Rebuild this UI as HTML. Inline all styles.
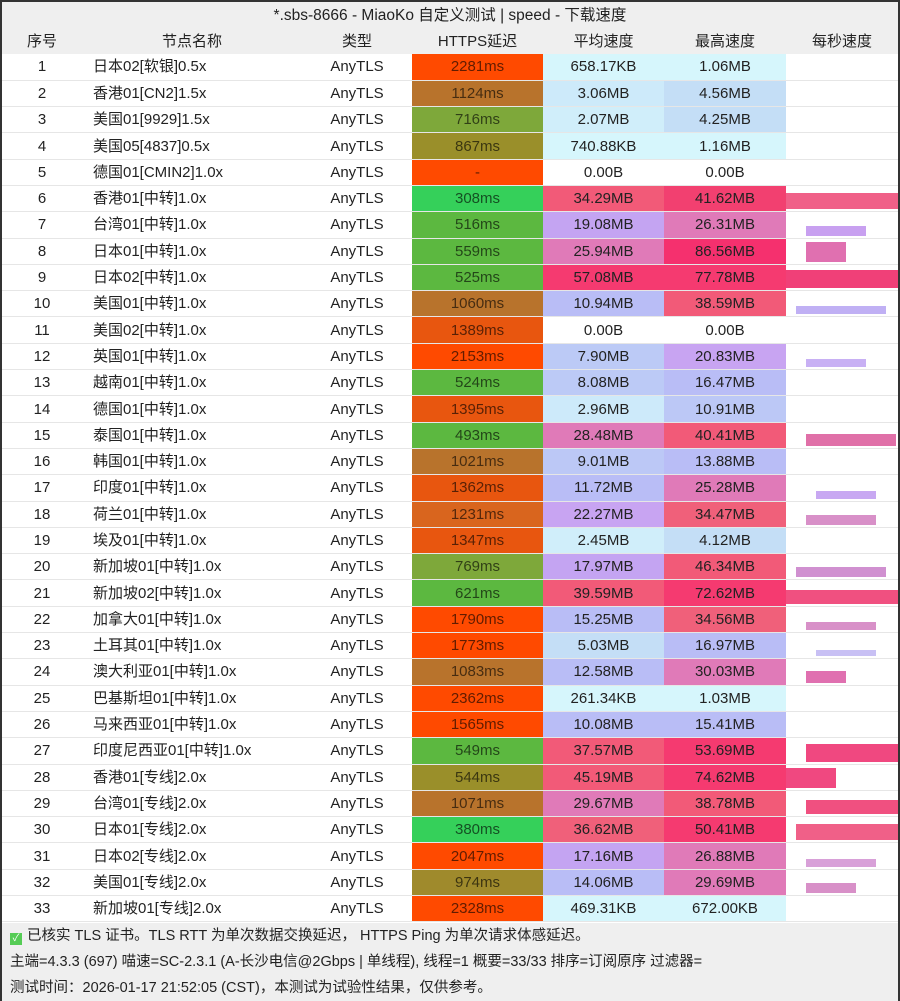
<!DOCTYPE html>
<html><head><meta charset="utf-8"><style>
*{margin:0;padding:0;box-sizing:border-box}
body{width:900px;height:1001px;background:#fff;font-family:"Liberation Sans","Noto Sans CJK SC",sans-serif;font-size:15px;color:#222;overflow:hidden;position:relative;border:2px solid #333}
.title{position:absolute;left:0;top:0;width:896px;height:27px;background:#efefef;text-align:center;line-height:27px;font-size:15.5px}
table{position:absolute;left:0;top:27px;width:896px;border-collapse:collapse;table-layout:fixed}
th{height:25px;background:#efefef;font-weight:normal;font-size:15px;text-align:center;line-height:25px}
td{height:26.3px;line-height:25px;vertical-align:middle;border-bottom:1px solid #e6e6e6;text-align:center;white-space:nowrap;padding:0;overflow:hidden}
td span{display:inline-block;vertical-align:middle;line-height:20px}
td.n{text-align:left;padding-left:11px}
td.s{padding:0;position:relative}
td:nth-child(4){color:rgba(0,0,0,0.62)}
.foot{position:absolute;left:0;top:921px;width:896px;height:78px;background:#efefef;font-size:14.5px}
.foot div{height:26px;line-height:26px;padding-left:8px}
.chk{display:inline-block;width:12px;height:12px;background:#5c5;color:#fff;font-size:10px;line-height:12px;text-align:center;vertical-align:-1px;margin-right:5px}
.b{position:absolute;bottom:2px}
</style></head><body>
<div class="title">*.sbs-8666 - MiaoKo 自定义测试 | speed - 下载速度</div>
<table>
<colgroup><col style="width:80px"><col style="width:220px"><col style="width:110px"><col style="width:131px"><col style="width:121px"><col style="width:122px"><col style="width:112px"></colgroup>
<tr><th>序号</th><th>节点名称</th><th>类型</th><th>HTTPS延迟</th><th>平均速度</th><th>最高速度</th><th>每秒速度</th></tr>
<tr><td>1</td><td class="n">日本02[软银]0.5x</td><td>AnyTLS</td><td style="background:#ff4a00">2281ms</td><td style="background:#d6f6fc">658.17KB</td><td style="background:#d6f6fc">1.06MB</td><td class="s"></td></tr>
<tr><td>2</td><td class="n">香港01[CN2]1.5x</td><td>AnyTLS</td><td style="background:#b8732c">1124ms</td><td style="background:#cdeafa">3.06MB</td><td style="background:#c4def6">4.56MB</td><td class="s"></td></tr>
<tr><td>3</td><td class="n">美国01[9929]1.5x</td><td>AnyTLS</td><td style="background:#7ea83a">716ms</td><td style="background:#d0eefa">2.07MB</td><td style="background:#c4def6">4.25MB</td><td class="s"></td></tr>
<tr><td>4</td><td class="n">美国05[4837]0.5x</td><td>AnyTLS</td><td style="background:#9a8f2a">867ms</td><td style="background:#d6f6fc">740.88KB</td><td style="background:#d6f6fc">1.16MB</td><td class="s"></td></tr>
<tr><td>5</td><td class="n">德国01[CMIN2]1.0x</td><td>AnyTLS</td><td style="background:#ff4a00">-</td><td>0.00B</td><td>0.00B</td><td class="s"></td></tr>
<tr><td>6</td><td class="n">香港01[中转]1.0x</td><td>AnyTLS</td><td style="background:#35d05a">308ms</td><td style="background:#f25a78">34.29MB</td><td style="background:#f24070">41.62MB</td><td class="s"><div class="b" style="left:0;width:112px;height:16px;background:#f06088"></div></td></tr>
<tr><td>7</td><td class="n">台湾01[中转]1.0x</td><td>AnyTLS</td><td style="background:#5cb840">516ms</td><td style="background:#c4a4f2">19.08MB</td><td style="background:#e07ab8">26.31MB</td><td class="s"><div class="b" style="left:20px;width:60px;height:10px;background:#c8a0f0"></div></td></tr>
<tr><td>8</td><td class="n">日本01[中转]1.0x</td><td>AnyTLS</td><td style="background:#5cb840">559ms</td><td style="background:#e07ab8">25.94MB</td><td style="background:#f5306e">86.56MB</td><td class="s"><div class="b" style="left:20px;width:40px;height:20px;background:#e070b0"></div></td></tr>
<tr><td>9</td><td class="n">日本02[中转]1.0x</td><td>AnyTLS</td><td style="background:#5cb840">525ms</td><td style="background:#f53a70">57.08MB</td><td style="background:#f53a70">77.78MB</td><td class="s"><div class="b" style="left:0;width:112px;height:18px;background:#f04078"></div></td></tr>
<tr><td>10</td><td class="n">美国01[中转]1.0x</td><td>AnyTLS</td><td style="background:#b8732c">1060ms</td><td style="background:#b9bdf6">10.94MB</td><td style="background:#f25a78">38.59MB</td><td class="s"><div class="b" style="left:10px;width:90px;height:8px;background:#c0b0f4"></div></td></tr>
<tr><td>11</td><td class="n">美国02[中转]1.0x</td><td>AnyTLS</td><td style="background:#e8560f">1389ms</td><td>0.00B</td><td>0.00B</td><td class="s"></td></tr>
<tr><td>12</td><td class="n">英国01[中转]1.0x</td><td>AnyTLS</td><td style="background:#ff4a00">2153ms</td><td style="background:#bccaf6">7.90MB</td><td style="background:#c8a4f2">20.83MB</td><td class="s"><div class="b" style="left:20px;width:60px;height:8px;background:#c8b0f4"></div></td></tr>
<tr><td>13</td><td class="n">越南01[中转]1.0x</td><td>AnyTLS</td><td style="background:#5cb840">524ms</td><td style="background:#bccaf6">8.08MB</td><td style="background:#b9bdf6">16.47MB</td><td class="s"></td></tr>
<tr><td>14</td><td class="n">德国01[中转]1.0x</td><td>AnyTLS</td><td style="background:#e8560f">1395ms</td><td style="background:#cdeafa">2.96MB</td><td style="background:#bcc8f6">10.91MB</td><td class="s"></td></tr>
<tr><td>15</td><td class="n">泰国01[中转]1.0x</td><td>AnyTLS</td><td style="background:#5cb840">493ms</td><td style="background:#e07ab8">28.48MB</td><td style="background:#f25a78">40.41MB</td><td class="s"><div class="b" style="left:20px;width:90px;height:12px;background:#e070a8"></div></td></tr>
<tr><td>16</td><td class="n">韩国01[中转]1.0x</td><td>AnyTLS</td><td style="background:#b8732c">1021ms</td><td style="background:#bcc8f6">9.01MB</td><td style="background:#b9bdf6">13.88MB</td><td class="s"></td></tr>
<tr><td>17</td><td class="n">印度01[中转]1.0x</td><td>AnyTLS</td><td style="background:#e8560f">1362ms</td><td style="background:#b9bdf6">11.72MB</td><td style="background:#e07ab8">25.28MB</td><td class="s"><div class="b" style="left:30px;width:60px;height:8px;background:#c8a8f2"></div></td></tr>
<tr><td>18</td><td class="n">荷兰01[中转]1.0x</td><td>AnyTLS</td><td style="background:#d9651e">1231ms</td><td style="background:#c8a4f2">22.27MB</td><td style="background:#f0607a">34.47MB</td><td class="s"><div class="b" style="left:20px;width:70px;height:10px;background:#d890c8"></div></td></tr>
<tr><td>19</td><td class="n">埃及01[中转]1.0x</td><td>AnyTLS</td><td style="background:#e8560f">1347ms</td><td style="background:#d0eefa">2.45MB</td><td style="background:#c4def6">4.12MB</td><td class="s"></td></tr>
<tr><td>20</td><td class="n">新加坡01[中转]1.0x</td><td>AnyTLS</td><td style="background:#7ea83a">769ms</td><td style="background:#c4a4f2">17.97MB</td><td style="background:#f25a78">46.34MB</td><td class="s"><div class="b" style="left:10px;width:90px;height:10px;background:#d090d0"></div></td></tr>
<tr><td>21</td><td class="n">新加坡02[中转]1.0x</td><td>AnyTLS</td><td style="background:#5cb840">621ms</td><td style="background:#f25a78">39.59MB</td><td style="background:#f53a70">72.62MB</td><td class="s"><div class="b" style="left:0;width:112px;height:14px;background:#f05080"></div></td></tr>
<tr><td>22</td><td class="n">加拿大01[中转]1.0x</td><td>AnyTLS</td><td style="background:#ff4a00">1790ms</td><td style="background:#b9bdf6">15.25MB</td><td style="background:#f0607a">34.56MB</td><td class="s"><div class="b" style="left:20px;width:70px;height:8px;background:#d890c8"></div></td></tr>
<tr><td>23</td><td class="n">土耳其01[中转]1.0x</td><td>AnyTLS</td><td style="background:#ff4a00">1773ms</td><td style="background:#c4def6">5.03MB</td><td style="background:#b9bdf6">16.97MB</td><td class="s"><div class="b" style="left:30px;width:60px;height:6px;background:#c8c0f4"></div></td></tr>
<tr><td>24</td><td class="n">澳大利亚01[中转]1.0x</td><td>AnyTLS</td><td style="background:#b8732c">1083ms</td><td style="background:#b9bdf6">12.58MB</td><td style="background:#e07ab8">30.03MB</td><td class="s"><div class="b" style="left:20px;width:40px;height:12px;background:#e070b0"></div></td></tr>
<tr><td>25</td><td class="n">巴基斯坦01[中转]1.0x</td><td>AnyTLS</td><td style="background:#ff4a00">2362ms</td><td style="background:#d6f6fc">261.34KB</td><td style="background:#d6f6fc">1.03MB</td><td class="s"></td></tr>
<tr><td>26</td><td class="n">马来西亚01[中转]1.0x</td><td>AnyTLS</td><td style="background:#ff4a00">1565ms</td><td style="background:#b9bdf6">10.08MB</td><td style="background:#b9bdf6">15.41MB</td><td class="s"></td></tr>
<tr><td>27</td><td class="n">印度尼西亚01[中转]1.0x</td><td>AnyTLS</td><td style="background:#5cb840">549ms</td><td style="background:#f25a78">37.57MB</td><td style="background:#f53a70">53.69MB</td><td class="s"><div class="b" style="left:20px;width:92px;height:18px;background:#f04880"></div></td></tr>
<tr><td>28</td><td class="n">香港01[专线]2.0x</td><td>AnyTLS</td><td style="background:#9a8f2a">544ms</td><td style="background:#f25a78">45.19MB</td><td style="background:#f53a70">74.62MB</td><td class="s"><div class="b" style="left:0;width:50px;height:20px;background:#f04880"></div></td></tr>
<tr><td>29</td><td class="n">台湾01[专线]2.0x</td><td>AnyTLS</td><td style="background:#b8732c">1071ms</td><td style="background:#e07ab8">29.67MB</td><td style="background:#f25a78">38.78MB</td><td class="s"><div class="b" style="left:20px;width:92px;height:14px;background:#f05080"></div></td></tr>
<tr><td>30</td><td class="n">日本01[专线]2.0x</td><td>AnyTLS</td><td style="background:#35d05a">380ms</td><td style="background:#f0607a">36.62MB</td><td style="background:#f53a70">50.41MB</td><td class="s"><div class="b" style="left:10px;width:102px;height:16px;background:#f06088"></div></td></tr>
<tr><td>31</td><td class="n">日本02[专线]2.0x</td><td>AnyTLS</td><td style="background:#ff4a00">2047ms</td><td style="background:#c4a4f2">17.16MB</td><td style="background:#e07ab8">26.88MB</td><td class="s"><div class="b" style="left:20px;width:70px;height:8px;background:#d8a0d8"></div></td></tr>
<tr><td>32</td><td class="n">美国01[专线]2.0x</td><td>AnyTLS</td><td style="background:#9f8a2c">974ms</td><td style="background:#b9bdf6">14.06MB</td><td style="background:#e07ab8">29.69MB</td><td class="s"><div class="b" style="left:20px;width:50px;height:10px;background:#d890c8"></div></td></tr>
<tr><td>33</td><td class="n">新加坡01[专线]2.0x</td><td>AnyTLS</td><td style="background:#ff4a00">2328ms</td><td style="background:#d6f6fc">469.31KB</td><td style="background:#d6f6fc">672.00KB</td><td class="s"></td></tr>
</table>
<div class="foot">
<div><span class="chk">✓</span>已核实 TLS 证书。TLS RTT 为单次数据交换延迟， HTTPS Ping 为单次请求体感延迟。</div>
<div>主端=4.3.3 (697) 喵速=SC-2.3.1 (A-长沙电信@2Gbps | 单线程), 线程=1 概要=33/33 排序=订阅原序 过滤器=</div>
<div>测试时间：2026-01-17 21:52:05 (CST)，本测试为试验性结果，仅供参考。</div>
</div>
</body></html>
